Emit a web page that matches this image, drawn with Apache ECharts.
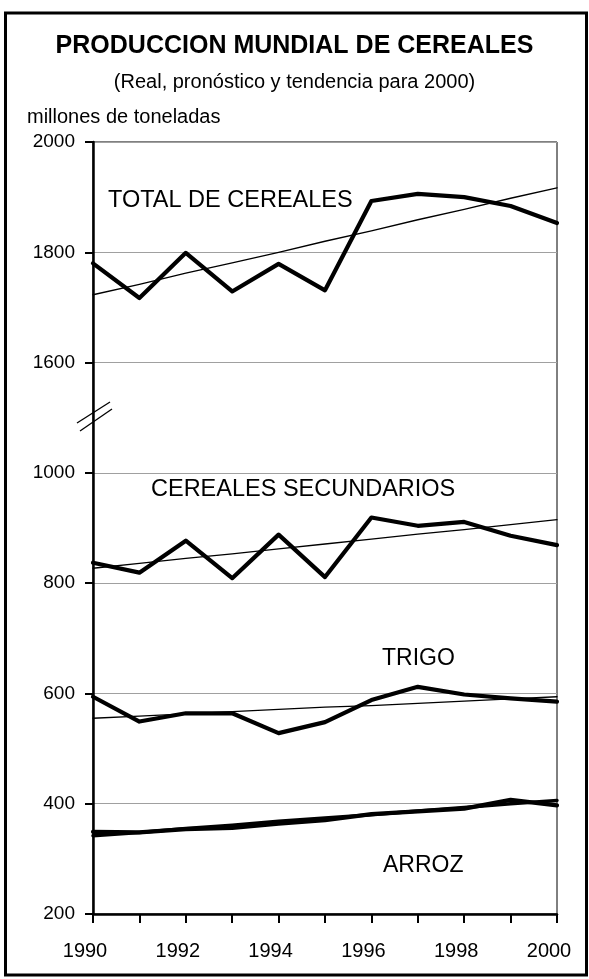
<!DOCTYPE html>
<html>
<head>
<meta charset="utf-8">
<script src="https://cdn.jsdelivr.net/npm/echarts@6/dist/echarts.min.js"></script>
<style>
html,body{margin:0;padding:0;background:#fff;}
#chart{width:589px;height:979px;}
</style>
</head>
<body>
<div id="chart"></div>
<script>
const years = ['1990','1991','1992','1993','1994','1995','1996','1997','1998','1999','2000'];
const totalReal  = [1780, 1717, 1799, 1729, 1779, 1731, 1893, 1906, 1900, 1884, 1853];
const totalTrend = [1723, 1742, 1762, 1781, 1800, 1820, 1839, 1859, 1878, 1898, 1917];
const secReal    = [837, 819, 877, 809, 888, 811, 919, 904, 911, 886, 869];
const secTrend   = [827, 836, 845, 853, 862, 871, 880, 889, 897, 906, 915];
const trigoReal  = [594, 549, 564, 564, 528, 548, 588, 612, 598, 591, 585];
const trigoTrend = [555, 559, 563, 567, 571, 575, 578, 582, 586, 590, 594];
const arrozReal  = [349, 348, 354, 356, 364, 370, 381, 386, 391, 407, 397];
const arrozTrend = [342, 348, 355, 361, 368, 374, 380, 387, 393, 400, 406];
const yTickLabels = [200, 400, 600, 800, 1000, 1600, 1800, 2000];

// broken axis: values from 1600 upward are drawn 400 lower (1600 -> 1200)
const BREAK_SHIFT = 400;
const toAxis = v => v >= 1400 ? v - BREAK_SHIFT : v;
const fromAxis = a => a > 1100 ? a + BREAK_SHIFT : a;

const FONT = "'Liberation Sans', Arial, sans-serif";
const chart = echarts.init(document.getElementById('chart'), null, {renderer:'canvas'});

function line(name, data, width, z){
  return {name, type:'line', data, symbol:'none', smooth:false, z:z||2,
    lineStyle:{color:'#000', width, join:'round', cap:'round'}, silent:true};
}

chart.setOption({
  animation:false,
  backgroundColor:'#fff',
  grid:{left:93, right:32, top:142, bottom:65, show:true, borderColor:'#000', borderWidth:1, backgroundColor:'#fff'},
  xAxis:{
    type:'category', data:years, boundaryGap:false,
    axisLine:{lineStyle:{color:'#000', width:2.5}},
    axisTick:{show:true, interval:0, length:9, lineStyle:{color:'#000', width:2}},
    axisLabel:{interval:1, color:'#000', fontFamily:FONT, fontSize:20, margin:27, padding:[0,16,0,0]},
    splitLine:{show:false}
  },
  yAxis:{
    type:'value', min:200, max:1600, interval:200,
    axisLine:{show:true, lineStyle:{color:'#000', width:2.5}},
    axisTick:{show:true, length:8, lineStyle:{color:'#000', width:2}},
    axisLabel:{color:'#000', fontFamily:FONT, fontSize:19, margin:18,
      formatter: a => { const v = fromAxis(a); return yTickLabels.indexOf(v) >= 0 ? String(v) : ''; }},
    splitLine:{show:true, lineStyle:{color:'#a0a0a0', width:1}}
  },
  series:[
    line('Total tendencia', totalTrend.map(toAxis), 1.3),
    line('Total', totalReal.map(toAxis), 4.2, 3),
    line('Secundarios tendencia', secTrend, 1.3),
    line('Secundarios', secReal, 4.2, 3),
    line('Trigo tendencia', trigoTrend, 1.3),
    line('Trigo', trigoReal, 4.2, 3),
    line('Arroz tendencia', arrozTrend, 3.5),
    line('Arroz', arrozReal, 4.2, 3)
  ],
  graphic:[
    {type:'rect', shape:{x:5.5, y:13, width:581, height:962}, style:{fill:'none', stroke:'#000', lineWidth:3}, z:100},
    {type:'text', x:294.5, y:46, style:{text:'PRODUCCION MUNDIAL DE CEREALES', font:"bold 25px "+FONT, fill:'#000', textAlign:'center', textVerticalAlign:'middle'}},
    {type:'text', x:294.5, y:82, style:{text:'(Real, pronóstico y tendencia para 2000)', font:"20px "+FONT, fill:'#000', textAlign:'center', textVerticalAlign:'middle'}},
    {type:'text', x:27, y:117, style:{text:'millones de toneladas', font:"20px "+FONT, fill:'#000', textAlign:'left', textVerticalAlign:'middle'}},
    {type:'text', x:108, y:201, style:{text:'TOTAL DE CEREALES', font:"23.5px "+FONT, fill:'#000', textAlign:'left', textVerticalAlign:'middle'}, z:10},
    {type:'text', x:151, y:490, style:{text:'CEREALES SECUNDARIOS', font:"23.5px "+FONT, fill:'#000', textAlign:'left', textVerticalAlign:'middle'}, z:10},
    {type:'text', x:382, y:659, style:{text:'TRIGO', font:"23px "+FONT, fill:'#000', textAlign:'left', textVerticalAlign:'middle'}, z:10},
    {type:'text', x:383, y:866, style:{text:'ARROZ', font:"23px "+FONT, fill:'#000', textAlign:'left', textVerticalAlign:'middle'}, z:10},
    {type:'line', shape:{x1:77, y1:423, x2:110, y2:402}, style:{stroke:'#000', lineWidth:1.3}, z:10},
    {type:'line', shape:{x1:80, y1:431, x2:112, y2:409}, style:{stroke:'#000', lineWidth:1.3}, z:10}
  ]
});
</script>
</body>
</html>
